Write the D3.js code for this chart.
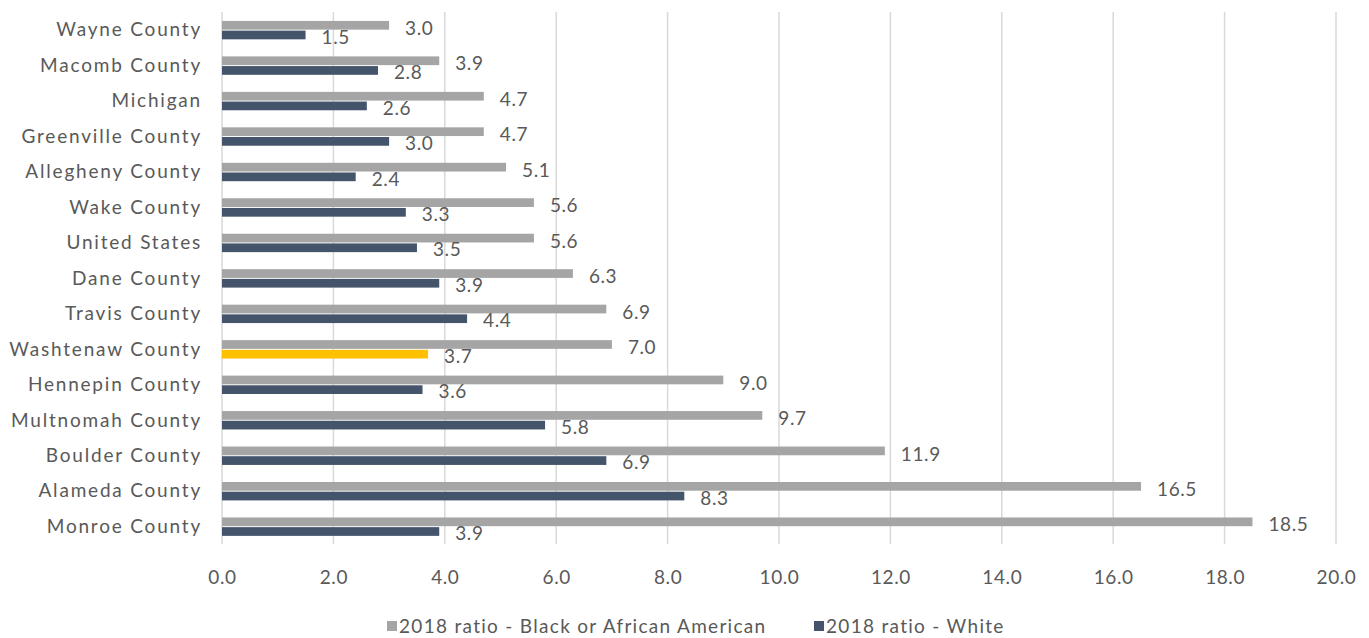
<!DOCTYPE html>
<html>
<head>
<meta charset="utf-8">
<script src="https://cdn.jsdelivr.net/npm/d3@7"></script>
<style>
  html, body { margin: 0; padding: 0; background: #fff; }
  svg { display: block; }
  text { font-family: "Lato", "Open Sans", sans-serif; fill: #595959; }
</style>
</head>
<body>
<svg id="chart" width="1369" height="638"></svg>
<script>
// Ratios by place, listed top to bottom
const categories = [
  "Wayne County", "Macomb County", "Michigan", "Greenville County",
  "Allegheny County", "Wake County", "United States", "Dane County",
  "Travis County", "Washtenaw County", "Hennepin County", "Multnomah County",
  "Boulder County", "Alameda County", "Monroe County"
];
const blackValues = [3.0, 3.9, 4.7, 4.7, 5.1, 5.6, 5.6, 6.3, 6.9, 7.0, 9.0, 9.7, 11.9, 16.5, 18.5];
const whiteValues = [1.5, 2.8, 2.6, 3.0, 2.4, 3.3, 3.5, 3.9, 4.4, 3.7, 3.6, 5.8, 6.9, 8.3, 3.9];
const seriesNames = ["2018 ratio - Black or African American", "2018 ratio - White"];
const xTicks = [0, 2, 4, 6, 8, 10, 12, 14, 16, 18, 20];
const highlightCategory = "Washtenaw County";

const colors = { black: "#A5A5A5", white: "#44546A", highlight: "#FFC000", grid: "#D9D9D9" };

const svg = d3.select("#chart");
const plot = { left: 222, right: 1336, top: 12, bottom: 544 };

const x = d3.scaleLinear().domain([0, 20]).range([plot.left, plot.right]);
const y = d3.scaleBand().domain(categories).range([plot.top, plot.bottom]).paddingInner(0);
const ySub = d3.scaleBand().domain(["black", "white"]).range([-8.8, 9.6]).paddingInner(0.1);

const rows = categories.map((c, i) => ({ cat: c, black: blackValues[i], white: whiteValues[i] }));

// vertical gridlines
svg.append("g").selectAll("line").data(xTicks).join("line")
  .attr("x1", d => x(d)).attr("x2", d => x(d))
  .attr("y1", plot.top).attr("y2", plot.bottom)
  .attr("stroke", colors.grid).attr("stroke-width", 1.5);

// x axis tick labels
const xAxis = d3.axisBottom(x).tickValues(xTicks).tickFormat(d3.format(".1f")).tickSize(0).tickPadding(0);
const gx = svg.append("g").attr("transform", `translate(0, ${plot.bottom + 40})`).call(xAxis);
gx.select(".domain").remove();
gx.selectAll("text").attr("font-size", 19).attr("dy", "0")
  .style("font-family", "Lato, sans-serif").style("letter-spacing", "0.6px").attr("fill", "#595959");

// category labels
const yAxis = d3.axisLeft(y).tickSize(0).tickPadding(0);
const gy = svg.append("g").attr("transform", `translate(${plot.left - 20}, 0)`).call(yAxis);
gy.select(".domain").remove();
gy.selectAll("text").attr("font-size", 19).attr("dy", "0.35em")
  .style("font-family", "Lato, sans-serif").style("letter-spacing", "1.8px").attr("fill", "#595959");

const groups = svg.append("g").selectAll("g").data(rows).join("g")
  .attr("transform", d => `translate(0, ${y(d.cat) + y.bandwidth() / 2})`);

// Black or African American bars
groups.append("rect")
  .attr("x", x(0)).attr("y", ySub("black"))
  .attr("width", d => x(d.black) - x(0)).attr("height", ySub.bandwidth())
  .attr("fill", colors.black);

// White bars
groups.append("rect")
  .attr("x", x(0)).attr("y", ySub("white"))
  .attr("width", d => x(d.white) - x(0)).attr("height", ySub.bandwidth())
  .attr("fill", d => d.cat === highlightCategory ? colors.highlight : colors.white);

// value labels
groups.append("text")
  .attr("x", d => x(d.black) + 16)
  .attr("y", ySub("black") + ySub.bandwidth() / 2 + 3)
  .attr("dy", "0.35em").attr("font-size", 19).style("letter-spacing", "0.6px")
  .text(d => d3.format(".1f")(d.black));

groups.append("text")
  .attr("x", d => x(d.white) + 16)
  .attr("y", ySub("white") + ySub.bandwidth() / 2 + 2)
  .attr("dy", "0.35em").attr("font-size", 19).style("letter-spacing", "0.6px")
  .text(d => d3.format(".1f")(d.white));

// legend
const legendItems = [
  { name: seriesNames[0], color: colors.black, x: 387 },
  { name: seriesNames[1], color: colors.white, x: 814 }
];
const legend = svg.append("g").selectAll("g").data(legendItems).join("g")
  .attr("transform", d => `translate(${d.x}, 626)`);
legend.append("rect").attr("x", 0).attr("y", -5).attr("width", 10).attr("height", 10).attr("fill", d => d.color);
legend.append("text").attr("x", 12).attr("y", 0).attr("dy", "0.35em").attr("font-size", 19)
  .style("letter-spacing", "1.3px").text(d => d.name);
</script>
</body>
</html>
